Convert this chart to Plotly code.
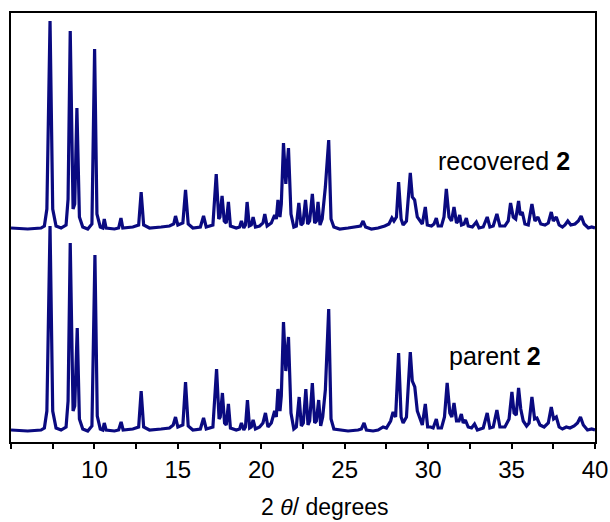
import plotly.graph_objects as go

# ---- data (2theta in degrees, intensity in arbitrary units) ----
recovered_2theta = [5.0, 6.0, 6.8, 7.0, 7.15, 7.34, 7.5, 7.7, 8.0, 8.3, 8.42, 8.55, 8.72, 8.82, 8.95, 9.1, 9.3, 9.6, 9.85, 10.01,
    10.15, 10.35, 10.5, 10.59, 10.7, 11.2, 11.45, 11.59, 11.7, 12.3, 12.65, 12.8, 12.95, 13.3, 14.0, 14.5, 14.75, 14.86, 15.0, 15.3,
    15.46, 15.62, 15.9, 16.35, 16.54, 16.7, 17.1, 17.3, 17.45, 17.52, 17.65, 17.78, 17.9, 18.03, 18.15, 18.5, 18.7, 18.81, 18.95, 19.05,
    19.15, 19.28, 19.4, 19.51, 19.65, 19.9, 20.1, 20.21, 20.35, 20.6, 20.8, 20.9, 21.0, 21.12, 21.2, 21.33, 21.47, 21.63, 21.78, 21.95,
    22.1, 22.25, 22.38, 22.5, 22.65, 22.78, 22.9, 23.06, 23.2, 23.3, 23.4, 23.52, 23.65, 23.84, 24.04, 24.18, 24.35, 24.7, 25.2, 25.8,
    25.95, 26.1, 26.25, 26.6, 27.0, 27.4, 27.65, 27.83, 27.95, 28.1, 28.23, 28.38, 28.5, 28.7, 28.93, 29.05, 29.19, 29.35, 29.5, 29.65,
    29.83, 29.95, 30.2, 30.35, 30.49, 30.6, 30.8, 30.95, 31.09, 31.25, 31.4, 31.55, 31.7, 31.8, 31.89, 32.0, 32.15, 32.29, 32.4, 32.65,
    32.89, 33.05, 33.3, 33.54, 33.7, 33.9, 34.12, 34.3, 34.6, 34.8, 34.94, 35.1, 35.25, 35.42, 35.52, 35.64, 35.8, 36.0, 36.22, 36.4,
    36.58, 36.75, 37.0, 37.2, 37.38, 37.5, 37.68, 37.85, 38.05, 38.2, 38.37, 38.55, 38.8, 39.0, 39.17, 39.35, 39.6, 39.8, 40.0]
recovered_int = [1, 0, 1, 3, 20, 208, 20, 3, 1, 4, 30, 198, 20, 25, 121, 12, 2, 0, 5, 180,
    15, 2, 1, 10, 1, 0, 1, 11, 1, 2, 4, 37, 4, 1, 2, 3, 5, 13, 4, 6,
    39, 5, 1, 2, 13, 2, 4, 55, 10, 12, 33, 8, 6, 27, 3, 1, 2, 8, 1, 4,
    27, 3, 4, 12, 2, 3, 6, 15, 3, 6, 14, 10, 29, 12, 25, 86, 45, 81, 15, 2,
    3, 26, 4, 6, 29, 5, 8, 35, 6, 8, 27, 4, 10, 42, 89, 10, 2, 0, 1, 2,
    3, 8, 2, 0, 1, 3, 5, 11, 8, 12, 47, 10, 4, 8, 56, 32, 29, 12, 8, 5,
    22, 4, 3, 5, 11, 3, 3, 12, 40, 12, 8, 22, 6, 8, 14, 4, 5, 11, 3, 2,
    7, 1, 2, 12, 2, 3, 15, 3, 3, 8, 26, 12, 10, 28, 14, 17, 5, 4, 25, 8,
    12, 5, 4, 6, 17, 8, 12, 4, 2, 4, 8, 4, 5, 8, 13, 5, 1, 2, 1]

parent_2theta = [5.0, 6.0, 6.8, 7.0, 7.15, 7.34, 7.5, 7.7, 8.0, 8.3, 8.42, 8.55, 8.72, 8.82, 8.97, 9.1, 9.3, 9.6, 9.85, 10.03,
    10.17, 10.35, 10.5, 10.59, 10.7, 11.2, 11.45, 11.6, 11.72, 12.3, 12.65, 12.8, 12.95, 13.3, 14.0, 14.5, 14.72, 14.86, 15.0, 15.3,
    15.46, 15.62, 15.9, 16.35, 16.54, 16.7, 17.1, 17.32, 17.47, 17.54, 17.67, 17.8, 17.9, 18.03, 18.15, 18.5, 18.7, 18.81, 18.95, 19.05,
    19.17, 19.3, 19.4, 19.51, 19.65, 19.9, 20.1, 20.25, 20.4, 20.6, 20.8, 20.9, 21.0, 21.12, 21.2, 21.33, 21.47, 21.63, 21.78, 21.95,
    22.1, 22.27, 22.4, 22.52, 22.67, 22.8, 22.9, 23.06, 23.2, 23.3, 23.44, 23.56, 23.68, 23.84, 24.04, 24.18, 24.35, 24.7, 25.2, 25.8,
    26.0, 26.16, 26.3, 26.7, 27.0, 27.3, 27.5, 27.75, 27.9, 28.05, 28.23, 28.38, 28.5, 28.7, 28.93, 29.05, 29.2, 29.35, 29.5, 29.65,
    29.83, 29.97, 30.15, 30.3, 30.49, 30.6, 30.8, 30.98, 31.14, 31.3, 31.42, 31.55, 31.7, 31.85, 31.99, 32.1, 32.23, 32.4, 32.6, 32.78,
    32.95, 33.3, 33.54, 33.7, 33.9, 34.12, 34.3, 34.6, 34.85, 35.02, 35.15, 35.28, 35.42, 35.55, 35.7, 35.9, 36.05, 36.22, 36.38, 36.52,
    36.7, 36.95, 37.2, 37.38, 37.52, 37.68, 37.85, 38.05, 38.28, 38.5, 38.75, 38.95, 39.13, 39.3, 39.55, 39.8, 40.0]
parent_int = [1, 0, 1, 3, 20, 205, 20, 3, 1, 4, 30, 188, 20, 25, 103, 12, 2, 0, 5, 176,
    15, 2, 1, 8, 1, 0, 1, 9, 1, 2, 4, 40, 4, 1, 2, 3, 6, 14, 4, 6,
    49, 5, 1, 2, 13, 2, 4, 62, 12, 14, 38, 8, 6, 27, 3, 1, 2, 8, 1, 4,
    31, 3, 4, 11, 2, 4, 8, 18, 4, 8, 20, 14, 42, 20, 35, 109, 60, 94, 18, 2,
    4, 34, 5, 8, 42, 6, 10, 48, 8, 10, 31, 5, 14, 41, 122, 12, 2, 1, 0, 1,
    2, 8, 1, 0, 1, 4, 3, 10, 19, 14, 78, 14, 8, 14, 79, 50, 44, 20, 12, 6,
    27, 4, 4, 3, 12, 3, 3, 14, 48, 18, 14, 28, 10, 10, 17, 8, 11, 4, 3, 7,
    1, 3, 18, 3, 4, 21, 4, 4, 12, 39, 18, 16, 43, 22, 10, 5, 8, 34, 12, 13,
    6, 4, 8, 24, 12, 14, 4, 2, 4, 3, 5, 8, 14, 6, 1, 2, 1]

series_names = ["recovered", "parent"]
label_number = "2"
x_tick_values = [5, 7.5, 10, 12.5, 15, 17.5, 20, 22.5, 25, 27.5, 30, 32.5, 35, 37.5, 40]
x_tick_labels = ["", "", "10", "", "15", "", "20", "", "25", "", "30", "", "35", "", "40"]

# vertical stacking offsets (arbitrary units)
parent_offset = 11
recovered_offset = 213

line_color = "#0a0a80"
font_family = "Liberation Sans, Arial, sans-serif"

fig = go.Figure()
fig.add_trace(go.Scatter(x=parent_2theta, y=[v + parent_offset for v in parent_int], mode="lines",
                         line=dict(color=line_color, width=3.2), name=series_names[1], showlegend=False))
fig.add_trace(go.Scatter(x=recovered_2theta, y=[v + recovered_offset for v in recovered_int], mode="lines",
                         line=dict(color=line_color, width=3.2), name=series_names[0], showlegend=False))

fig.add_annotation(x=38.6, y=281, xref="x", yref="y", xanchor="right", yanchor="middle",
                   text=f"{series_names[0]} <b>{label_number}</b>", showarrow=False,
                   font=dict(family=font_family, size=25, color="black"))
fig.add_annotation(x=36.9, y=86, xref="x", yref="y", xanchor="right", yanchor="middle",
                   text=f"{series_names[1]} <b>{label_number}</b>", showarrow=False,
                   font=dict(family=font_family, size=25, color="black"))
fig.add_annotation(x=0.537, y=-0.151, xref="paper", yref="paper", xanchor="center", yanchor="middle",
                   text="2 <i>θ</i>/ degrees", showarrow=False,
                   font=dict(family=font_family, size=23, color="black"))

fig.update_layout(
    width=610, height=522,
    margin=dict(l=11, r=15, t=13, b=80, autoexpand=False),
    plot_bgcolor="white", paper_bgcolor="white",
    font=dict(family=font_family, color="black"),
    xaxis=dict(range=[5, 40], tickmode="array", tickvals=x_tick_values, ticktext=x_tick_labels,
               ticks="outside", ticklen=5, tickwidth=1.5, tickcolor="black", automargin=False,
               showline=True, linecolor="black", linewidth=2, mirror=True,
               showgrid=False, zeroline=False, tickfont=dict(size=24, family=font_family)),
    yaxis=dict(range=[0, 429], showticklabels=False, ticks="", automargin=False,
               showline=True, linecolor="black", linewidth=2, mirror=True,
               showgrid=False, zeroline=False),
)

fig.write_html("out.html")
